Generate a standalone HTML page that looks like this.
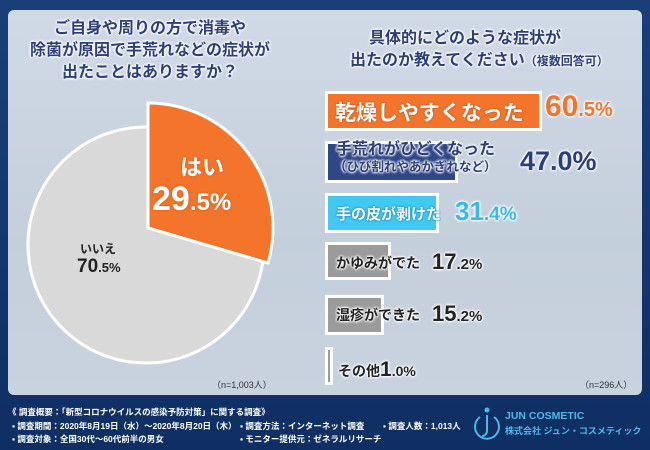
<!DOCTYPE html>
<html><head><meta charset="utf-8"><style>
body{margin:0;width:650px;height:450px;overflow:hidden;background:#12366b;font-family:"Liberation Sans","Noto Sans CJK JP",sans-serif;}
.bg{position:absolute;left:0;top:0;width:650px;height:450px;background:linear-gradient(180deg,#1a3f78,#0f2f63);}
.panel{position:absolute;left:8px;top:10px;width:634px;height:385px;border-radius:6px;background:linear-gradient(180deg,#d0dae6,#c4cfdc 60%,#c9d3df);}
.t{position:absolute;font-weight:bold;color:#2c3f7a;text-shadow:0 0 3px #fff,0 0 3px #fff,0 0 2px #fff,0 0 2px #fff;white-space:nowrap;}
.bar{position:absolute;left:325px;border:3px solid #fff;box-sizing:border-box;}
.ft{position:absolute;color:#fff;font-size:8.5px;font-weight:bold;white-space:nowrap;}
</style></head><body>
<div class="bg"></div>
<div class="panel"></div>
<div class="t" style="left:30px;top:18px;width:240px;text-align:center;font-size:16px;line-height:22px;">ご自身や周りの方で消毒や<br>除菌が原因で手荒れなどの症状が<br>出たことはありますか？</div>
<div class="t" style="left:350px;top:28px;width:230px;text-align:center;font-size:16px;line-height:22px;">具体的にどのような症状が<br>出たのか教えてください<span style="font-size:12px">（複数回答可）</span></div>
<svg style="position:absolute;left:0;top:0" width="650" height="450">
<circle cx="146" cy="245" r="118" fill="#d9d9d9" stroke="#fff" stroke-width="3"/>
<path d="M148 228 L148 103 A125 125 0 0 1 268 263 Z" fill="#f4742b" stroke="#fff" stroke-width="3"/>
</svg>
<div class="t" style="left:180px;top:150px;font-size:22px;color:#fff;text-shadow:0 0 3px #f4742b,0 0 2px #c54a10;">はい</div>
<div class="t" style="left:152px;top:180px;font-size:34px;color:#fff;text-shadow:0 0 3px #f4742b,0 0 2px #c54a10;">29<span style="font-size:24px">.5%</span></div>
<div class="t" style="left:80px;top:240px;font-size:12px;color:#222;text-shadow:none;">いいえ</div>
<div class="t" style="left:77px;top:256px;font-size:19px;color:#222;text-shadow:none;">70<span style="font-size:13px">.5%</span></div>
<div style="position:absolute;left:212px;top:378px;font-size:9px;color:#333;">（n=1,003人）</div>
<div style="position:absolute;left:580px;top:378px;font-size:9px;color:#333;">（n=296人）</div>

<div class="bar" style="top:91px;width:217px;height:40px;background:#f4742b;"></div>
<div class="t" style="left:335px;top:97px;font-size:21px;color:#fff;text-shadow:0 0 2px #b84c10;">乾燥しやすくなった</div>
<div class="t" style="left:545px;top:90px;font-size:30px;color:#f4742b;">60<span style="font-size:20px">.5%</span></div>

<div class="bar" style="top:141px;width:133px;height:42px;background:#2f4687;"></div>
<div class="t" style="left:336px;top:141px;font-size:16px;line-height:18px;">手荒れがひどくなった</div>
<div class="t" style="left:334px;top:160px;font-size:12.5px;line-height:14px;">（ひび割れやあかぎれなど）</div>
<div class="t" style="left:520px;top:146px;font-size:27px;">47.0%</div>

<div class="bar" style="top:193px;width:114px;height:40px;background:#43c8f2;"></div>
<div class="t" style="left:336px;top:203px;font-size:15px;color:#fff;text-shadow:0 0 2px #1a8fc0,0 0 2px #1a8fc0;">手の皮が剥けた</div>
<div class="t" style="left:455px;top:196px;font-size:26px;color:#38b8ec;">31<span style="font-size:19px">.4%</span></div>

<div class="bar" style="top:242px;width:66px;height:38px;background:#9b9b9b;"></div>
<div class="t" style="left:336px;top:253px;font-size:14px;color:#222;">かゆみがでた</div>
<div class="t" style="left:432px;top:249px;font-size:22px;color:#222;">17<span style="font-size:15px">.2%</span></div>

<div class="bar" style="top:295px;width:59px;height:40px;background:#9b9b9b;"></div>
<div class="t" style="left:336px;top:305px;font-size:14px;color:#222;">湿疹ができた</div>
<div class="t" style="left:432px;top:301px;font-size:22px;color:#222;">15<span style="font-size:15px">.2%</span></div>

<div class="bar" style="top:347px;width:8px;height:38px;background:#9b9b9b;"></div>
<div class="t" style="left:338px;top:358px;font-size:14px;color:#222;">その他<span style="font-size:21px">1</span><span style="font-size:14px">.0%</span></div>

<div class="ft" style="left:8px;top:406px;">《 調査概要：「新型コロナウイルスの感染予防対策」に関する調査》</div>
<div class="ft" style="left:12px;top:420px;">▪ 調査期間：2020年8月19日（水）～2020年8月20日（木）</div>
<div class="ft" style="left:240px;top:420px;">▪ 調査方法：インターネット調査</div>
<div class="ft" style="left:383px;top:420px;">▪ 調査人数：1,013人</div>
<div class="ft" style="left:12px;top:433px;">▪ 調査対象：全国30代～60代前半の男女</div>
<div class="ft" style="left:240px;top:433px;">▪ モニター提供元：ゼネラルリサーチ</div>
<svg style="position:absolute;left:472px;top:405px" width="30" height="40"><circle cx="15" cy="5" r="2.5" fill="#4fb8e8"/><path d="M8 12 A12 12 0 1 0 22 12" fill="none" stroke="#4fb8e8" stroke-width="2"/><path d="M15 10 V26 A5 5 0 0 1 10 31" fill="none" stroke="#4fb8e8" stroke-width="2"/></svg>
<div class="ft" style="left:505px;top:410px;font-size:10.5px;color:#4fb8e8;">JUN COSMETIC</div>
<div class="ft" style="left:505px;top:424px;font-size:9px;color:#4fb8e8;">株式会社 ジュン・コスメティック</div>
</body></html>
